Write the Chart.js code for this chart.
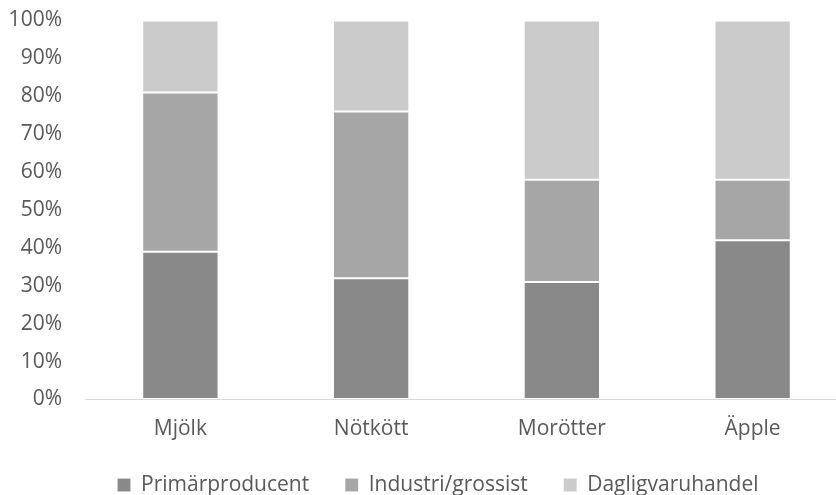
<!DOCTYPE html>
<html>
<head>
<meta charset="utf-8">
<script src="https://cdn.jsdelivr.net/npm/chart.js@4.4.1/dist/chart.umd.min.js"></script>
<style>
  html, body { margin: 0; padding: 0; background: #fff; overflow: hidden; }
  #wrap { width: 836px; height: 495px; overflow: hidden; position: relative; }
  #box { width: 848px; height: 495px; position: absolute; left: 0; top: 0; }
</style>
</head>
<body>
<div id="wrap"><div id="box"><canvas id="c"></canvas></div></div>
<script>
// Andel av konsumentpriset per led i kedjan
const categories = ['Mjölk', 'Nötkött', 'Morötter', 'Äpple'];
const primarproducent = [39, 32, 31, 42];
const industriGrossist = [42, 44, 27, 16];
const dagligvaruhandel = [19, 24, 42, 42];
const seriesNames = ['Primärproducent', 'Industri/grossist', 'Dagligvaruhandel'];
const yTicks = [0, 10, 20, 30, 40, 50, 60, 70, 80, 90, 100];

const FONT = "'Open Sans', sans-serif";
const TEXT = '#595959';
const FS = 21;

const mk = (label, data, color) => ({
  label, data,
  backgroundColor: color,
  borderColor: 'rgba(255,255,255,0.15)',
  borderWidth: 1,
  borderSkipped: false,
  barPercentage: 0.4,
  categoryPercentage: 1.0
});

// compact legend band, with its row placed near the bottom edge
const legendBand = {
  id: 'legendBand',
  beforeUpdate(chart) {
    const lg = chart.legend;
    if (lg && !lg._fixedFit) {
      const orig = lg.fit;
      lg.fit = function () { orig.call(this); this.height = 46.5; };
      lg._fixedFit = true;
    }
  },
  afterLayout(chart) {
    const lg = chart.legend;
    if (lg) {
      lg.top = 438.5;
      lg.bottom = 495;
      lg.height = lg.bottom - lg.top;
      lg.left = 28;
      lg.right = chart.width;
      lg.width = lg.right - lg.left;
      lg.adjustHitBoxes();
    }
  }
};

new Chart(document.getElementById('c'), {
  type: 'bar',
  data: {
    labels: categories,
    datasets: [
      mk(seriesNames[0], primarproducent, '#898989'),
      mk(seriesNames[1], industriGrossist, '#a6a6a6'),
      mk(seriesNames[2], dagligvaruhandel, '#cbcbcb')
    ]
  },
  plugins: [legendBand],
  options: {
    responsive: true,
    maintainAspectRatio: false,
    animation: false,
    layout: { padding: { top: 20.5, right: 0, bottom: 0, left: 0 } },
    plugins: {
      tooltip: { enabled: false },
      legend: {
        position: 'bottom',
        labels: {
          boxWidth: 13,
          boxHeight: 13,
          padding: 36,
          color: TEXT,
          font: { family: FONT, size: FS }
        }
      }
    },
    scales: {
      x: {
        stacked: true,
        grid: { display: false, drawTicks: false },
        border: { display: true, color: '#d9d9d9', width: 1 },
        ticks: { color: TEXT, font: { family: FONT, size: FS }, padding: 17 },
        afterFit: s => { s.height = 49; }
      },
      y: {
        stacked: true,
        min: 0,
        max: 100,
        afterBuildTicks: s => { s.ticks = yTicks.map(v => ({ value: v })); },
        grid: {
          display: true,
          drawOnChartArea: false,
          drawTicks: true,
          tickLength: 23,
          tickColor: 'rgba(0,0,0,0)',
          color: 'rgba(0,0,0,0)'
        },
        border: { display: false },
        ticks: {
          color: TEXT,
          font: { family: FONT, size: FS },
          padding: 0,
          callback: v => v + '%'
        },
        afterFit: s => { s.width = 85; }
      }
    }
  }
});
</script>
</body>
</html>
